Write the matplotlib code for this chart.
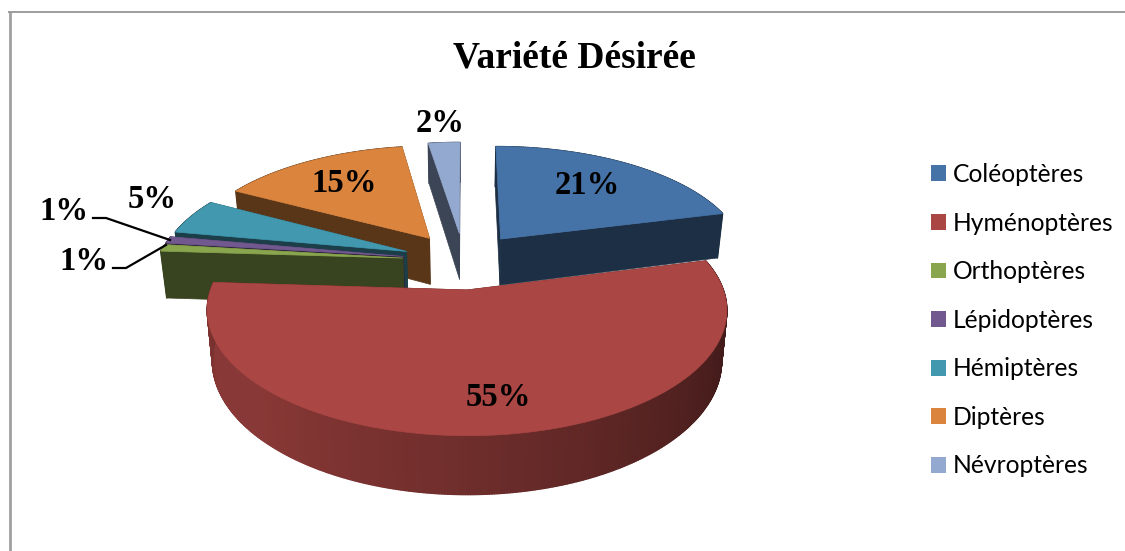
import numpy as np
import matplotlib
matplotlib.use('Agg')
import matplotlib.pyplot as plt
from matplotlib.collections import PolyCollection
from matplotlib.colors import to_rgb
from matplotlib.patches import Patch

# Donnees du graphique (valeurs estimees, etiquettes arrondies)
categories = ['Coléoptères', 'Hyménoptères', 'Orthoptères', 'Lépidoptères',
              'Hémiptères', 'Diptères', 'Névroptères']
valeurs = [21, 55, 0.95, 0.95, 5, 14.65, 2.45]
couleurs = ['#4572A7', '#AA4643', '#89A54E', '#71588F', '#4198AF', '#DB843D', '#93A9CF']
titre = 'Variété Désirée'

# Ordre de dessin (du fond vers l'avant) et position des etiquettes en pixels
ordre = [6, 0, 5, 4, 3, 2, 1]
pos_labels = [(587, 185), (498, 398), (84, 261), (64, 211), (152, 200), (344, 183), (440, 123)]

# Parametres de la projection en perspective
CX, CY = 464, 260.7
A, B = 246.5, 113
K = 0.155
EXPLODE = 0.25
D = 47.5


def projeter(u, v, z=0.0):
    den = 1 + K * v
    x = CX + A * u / den * (1 - 0.02 * z)
    y = CY - B * v / den + z * D / den
    return np.column_stack([x, y])


def assombrir(couleur, f):
    return tuple(c * f for c in to_rgb(couleur))


fig = plt.figure(figsize=(11.25, 5.51), dpi=100)
ax = fig.add_axes([0, 0, 1, 1])
ax.set_xlim(0, 1125)
ax.set_ylim(551, 0)
ax.axis('off')

# Cadre gris (haut et gauche seulement)
ax.plot([9.5, 9.5], [551, 11.5], color='#A0A0A0', lw=2.0, solid_capstyle='butt')
ax.plot([8, 1125], [11.5, 11.5], color='#8C8C8C', lw=1.2, solid_capstyle='butt')

bornes = np.cumsum([0] + valeurs) * 3.6

for i in ordre:
    t1, t2 = bornes[i], bornes[i + 1]
    milieu = np.radians((t1 + t2) / 2)
    du, dv = EXPLODE * np.sin(milieu), EXPLODE * np.cos(milieu)
    if i == 1:
        du -= 0.012
    angles = np.linspace(t1, t2, max(int(t2 - t1) * 2, 6))
    rad = np.radians(angles)
    u = du + np.sin(rad)
    v = dv + np.cos(rad)

    # paroi exterieure, par petits quadrilateres pour le degrade
    haut = projeter(u, v)
    bas = projeter(u, v, 1.0)
    quads = [[haut[j], haut[j + 1], bas[j + 1], bas[j]] for j in range(len(u) - 1)]
    if i == 1:
        f = np.interp(angles[:-1], [75, 110, 145, 180, 225, 250, 275],
                      [0.36, 0.40, 0.52, 0.65, 0.80, 0.80, 0.66])
    else:
        f = np.full(len(quads), 0.41)
    cols = [assombrir(couleurs[i], x) for x in f]
    ax.add_collection(PolyCollection(quads, facecolors=cols, edgecolors=cols, linewidths=1.0))

    # parois radiales
    c0h = projeter(np.array([du]), np.array([dv]))[0]
    c0b = projeter(np.array([du]), np.array([dv]), 1.0)[0]
    sombre = assombrir(couleurs[i], 0.41)
    for k in (0, -1):
        ax.fill([c0h[0], haut[k][0], bas[k][0], c0b[0]],
                [c0h[1], haut[k][1], bas[k][1], c0b[1]], color=sombre, lw=0.5)

    # face superieure
    ax.fill(np.r_[c0h[0], haut[:, 0]], np.r_[c0h[1], haut[:, 1]],
            color=couleurs[i], lw=0.5)

# Etiquettes de pourcentage
for val, (x, y) in zip(valeurs, pos_labels):
    ax.text(x, y, f'{round(val)}%', family='Liberation Serif', weight='bold', fontsize=23.5,
            ha='center', va='center', color='black')

# Traits de rappel des deux petites parts
ax.plot([93, 106, 170], [218, 218, 240], color='black', lw=1.6)
ax.plot([113, 126, 166], [268, 268, 245], color='black', lw=1.6)

ax.text(574.5, 57.5, titre, family='Liberation Serif', weight='bold', fontsize=27,
        ha='center', va='center', color='black')

poignees = [Patch(facecolor=c, edgecolor='none') for c in couleurs]
ax.legend(poignees, categories, loc='upper left', bbox_to_anchor=(931 / 1125, 1 - 163 / 551),
          frameon=False, prop={'family': 'Lato', 'size': 17.7}, handlelength=0.62,
          handleheight=0.62, handletextpad=0.28, labelspacing=1.04, borderpad=0,
          borderaxespad=0)

fig.savefig('out.png', dpi=100)
